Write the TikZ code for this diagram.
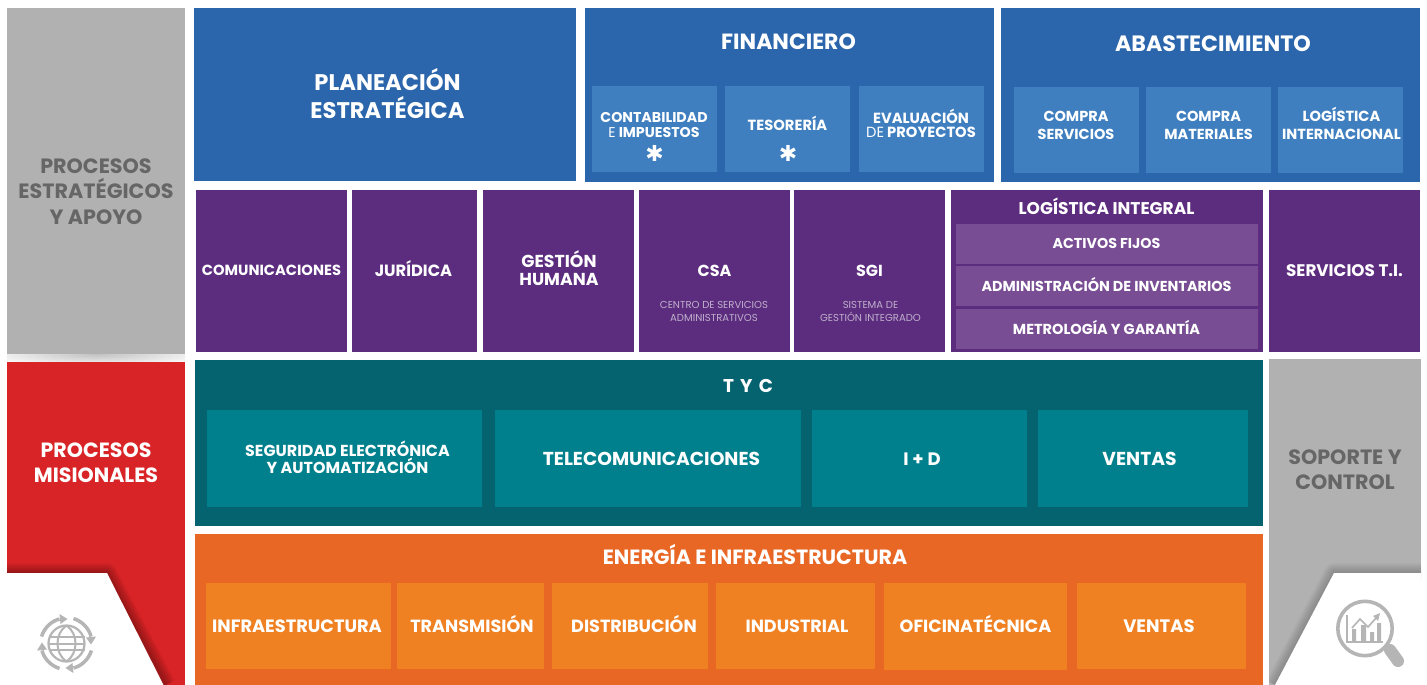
\documentclass[tikz,border=0pt]{standalone}
\usepackage{fontspec}
\setmainfont{Poppins}[BoldFont={Poppins Bold}]
\definecolor{gbox}{HTML}{B1B1B1}
\definecolor{gtxt}{HTML}{666666}
\definecolor{redb}{HTML}{D92427}
\definecolor{blueb}{HTML}{2B65AB}
\definecolor{blues}{HTML}{3F7FC0}
\definecolor{purb}{HTML}{5C2C7E}
\definecolor{purs}{HTML}{784D93}
\definecolor{tealb}{HTML}{05626F}
\definecolor{teals}{HTML}{00808C}
\definecolor{orab}{HTML}{E96724}
\definecolor{oras}{HTML}{F08122}
\definecolor{ico}{HTML}{B5B5B5}
\definecolor{lil}{HTML}{BFB0CC}
\tikzset{x=1pt,y=-1pt,
 txt/.style={align=center,text=white,font=\bfseries,inner sep=0pt},
 boxn/.style={inner sep=0pt,outer sep=0pt,draw=none},
 iconl/.style={draw=ico,line width=3pt,line cap=butt}}
\newcommand{\bx}[6]{%
 \pgfmathsetmacro{\bw}{#4-#2}\pgfmathsetmacro{\bh}{#5-#3}%
 \node[boxn,fill=#6,minimum width=\bw pt,minimum height=\bh pt] (#1) at ({(#2+#4)/2},{(#3+#5)/2}) {};}
\newcommand{\tx}[5]{\node[txt,#5] (#1) at (#2,#3) {\rule{0pt}{.95em}#4\rule[-.25em]{0pt}{.25em}};}
\newcommand{\fs}[1]{\fontsize{#1}{#1}\selectfont}
\newcommand{\lnsp}[2]{\fontsize{#1}{#2}\selectfont}
\begin{document}
\begin{tikzpicture}
\useasboundingbox (0,0) rectangle (1427,685);
\fill[white] (0,0) rectangle (1427,685);
% soft shadow under the grey box
\begin{scope}
 \clip (7,354) rectangle (185,362);
 \shade[inner color=black!24,outer color=white] (96,354) ellipse[x radius=125,y radius=13];
\end{scope}
% left column
\bx{gl}{7}{8}{185}{354}{gbox}
\bx{rl}{7}{362}{185}{685}{redb}
\begin{scope}
 \clip (7,362) rectangle (185,685);
 \foreach \w in {2,4,...,20}{\draw[black,opacity=.03,line width=\w pt,line join=round] (7,573)--(107,573)--(166,685);}
 \fill[white] (7,573)--(107,573)--(166,690)--(7,690)--cycle;
\end{scope}
% right column
\bx{gr}{1269}{359}{1421}{685}{gbox}
\begin{scope}
 \clip (1269,359) rectangle (1421,685);
 \foreach \w in {2,4,...,20}{\draw[black,opacity=.02,line width=\w pt,line join=round] (1421,573)--(1334,573)--(1275,685);}
 \fill[white] (1421,573)--(1334,573)--(1275,685)--(1421,685)--cycle;
\end{scope}
% blue
\bx{plan}{194}{8}{576}{181}{blueb}
\bx{fin}{585}{8}{994}{182}{blueb}
\bx{aba}{1001}{8}{1420}{182}{blueb}
\bx{f1}{592}{86}{717}{172}{blues}
\bx{f2}{725}{86}{850}{172}{blues}
\bx{f3}{859}{86}{984}{172}{blues}
\bx{a1}{1014}{87}{1139}{173}{blues}
\bx{a2}{1146}{87}{1271}{173}{blues}
\bx{a3}{1278}{87}{1403}{173}{blues}
% purple
\bx{p1}{196}{190}{347}{352}{purb}
\bx{p2}{352}{190}{477}{352}{purb}
\bx{p3}{483}{190}{634}{352}{purb}
\bx{p4}{639}{190}{790}{352}{purb}
\bx{p5}{794}{190}{945}{352}{purb}
\bx{p6}{951}{190}{1263}{352}{purb}
\bx{p7}{1269}{190}{1420}{352}{purb}
\bx{l1}{956}{224}{1258}{264}{purs}
\bx{l2}{956}{266}{1258}{306}{purs}
\bx{l3}{956}{309}{1258}{349}{purs}
% teal
\bx{tyc}{195}{360}{1263}{526}{tealb}
\bx{t1}{207}{410}{482}{507}{teals}
\bx{t2}{495}{410}{801}{507}{teals}
\bx{t3}{812}{410}{1027}{507}{teals}
\bx{t4}{1038}{410}{1248}{507}{teals}
% orange
\bx{ene}{195}{534}{1263}{685}{orab}
\bx{o1}{206}{583}{391}{669}{oras}
\bx{o2}{397}{583}{544}{669}{oras}
\bx{o3}{552}{583}{708}{669}{oras}
\bx{o4}{716}{583}{875}{669}{oras}
\bx{o5}{884}{583}{1067}{670}{oras}
\bx{o6}{1077}{583}{1246}{669}{oras}
% texts
\tx{tgl}{96}{191.5}{PROCESOS\\ESTRATÉGICOS\\Y APOYO}{text=gtxt,font=\bfseries\lnsp{20.7}{25.5}}
\tx{trl}{96}{462.5}{PROCESOS\\MISIONALES}{font=\bfseries\lnsp{20.6}{25}}
\tx{tgr}{1345}{469.5}{SOPORTE Y\\CONTROL}{text=gtxt,font=\bfseries\lnsp{20.7}{25}}
\tx{tplan}{387.5}{96.5}{PLANEACIÓN\\ESTRATÉGICA}{font=\bfseries\lnsp{22.6}{28}}
\tx{tfin}{788.5}{41.5}{FINANCIERO}{font=\bfseries\fs{22}}
\tx{taba}{1213}{43.5}{ABASTECIMIENTO}{font=\bfseries\fs{22.2}}
\tx{tf1}{654}{125}{CONTABILIDAD\\{\mdseries E} IMPUESTOS}{font=\bfseries\lnsp{14.2}{14.5}}
\tx{sf1}{654.5}{154}{\fontspec{DejaVu Sans}\bfseries ✱}{font=\fs{22}}
\tx{tf2}{787.5}{125}{TESORERÍA}{font=\bfseries\fs{14.7}}
\tx{sf2}{788}{154}{\fontspec{DejaVu Sans}\bfseries ✱}{font=\fs{22}}
\tx{tf3}{921}{125}{EVALUACIÓN\\{\mdseries DE} PROYECTOS}{font=\bfseries\lnsp{14.7}{14.5}}
\tx{ta1}{1076}{125.2}{COMPRA\\SERVICIOS}{font=\bfseries\lnsp{14.5}{18}}
\tx{ta2}{1208.5}{125.2}{COMPRA\\MATERIALES}{font=\bfseries\lnsp{14.5}{18}}
\tx{ta3}{1341.5}{125.5}{LOGÍSTICA\\INTERNACIONAL}{font=\bfseries\lnsp{14.6}{18}}
\tx{tp1}{271.5}{270}{COMUNICACIONES}{font=\bfseries\fs{14.7}}
\tx{tp2}{413.5}{270.7}{JURÍDICA}{font=\bfseries\fs{16.3}}
\tx{tp3}{559}{270.5}{GESTIÓN\\HUMANA}{font=\bfseries\lnsp{17.3}{18}}
\tx{tp4}{714.5}{271}{CSA}{font=\bfseries\fs{16}}
\tx{sp4}{714}{311}{CENTRO DE SERVICIOS\\ADMINISTRATIVOS}{text=lil,font=\mdseries\lnsp{10.1}{13}}
\tx{tp5}{869.5}{271}{SGI}{font=\bfseries\fs{16}}
\tx{sp5}{870.5}{311}{SISTEMA DE\\GESTIÓN INTEGRADO}{text=lil,font=\mdseries\lnsp{10.1}{13}}
\tx{tp6}{1106.5}{208.3}{LOGÍSTICA INTEGRAL}{font=\bfseries\fs{17}}
\tx{tl1}{1106.5}{243.3}{ACTIVOS FIJOS}{font=\bfseries\fs{14.3}}
\tx{tl2}{1106.5}{286.3}{ADMINISTRACIÓN DE INVENTARIOS}{font=\bfseries\fs{14.4}}
\tx{tl3}{1106.5}{329.3}{METROLOGÍA Y GARANTÍA}{font=\bfseries\fs{14.5}}
\tx{tp7}{1344.5}{270.5}{SERVICIOS T.I.}{font=\bfseries\fs{16.8}}
\tx{ttyc}{748}{386}{\addfontfeature{LetterSpace=12}T Y C}{font=\bfseries\fs{18.5}}
\tx{tt1}{347.5}{459}{SEGURIDAD ELECTRÓNICA\\Y AUTOMATIZACIÓN}{font=\bfseries\lnsp{15.9}{17.5}}
\tx{tt2}{651.5}{459}{TELECOMUNICACIONES}{font=\bfseries\fs{18.7}}
\tx{tt3}{922}{459}{I + D}{font=\bfseries\fs{18}}
\tx{tt4}{1139.5}{459}{VENTAS}{font=\bfseries\fs{18.7}}
\tx{tene}{755}{557.5}{ENERGÍA E INFRAESTRUCTURA}{font=\bfseries\fs{20.6}}
\tx{to1}{297}{626}{INFRAESTRUCTURA}{font=\bfseries\fs{17.8}}
\tx{to2}{472}{626}{TRANSMISIÓN}{font=\bfseries\fs{17.6}}
\tx{to3}{634}{626}{DISTRIBUCIÓN}{font=\bfseries\fs{17.6}}
\tx{to4}{797}{626}{INDUSTRIAL}{font=\bfseries\fs{17.6}}
\tx{to5}{975.5}{626}{OFICINATÉCNICA}{font=\bfseries\fs{17.6}}
\tx{to6}{1159}{626}{VENTAS}{font=\bfseries\fs{18}}
% globe icon
\coordinate (gc) at (66.5,643.5);
\begin{scope}[shift={(gc)}]
 \draw[iconl,line width=2.2pt] (0,0) circle[radius=18];
 \draw[iconl,line width=2pt] (-18,-6.5)--(18,-6.5) (-18,6.5)--(18,6.5) (-18,0)--(18,0);
 \draw[iconl,line width=2pt] (0,-18) .. controls (-12,-10) and (-12,10) .. (0,18);
 \draw[iconl,line width=2pt] (0,-18) .. controls (12,-10) and (12,10) .. (0,18);
 \foreach \a in {0,90,180,270}{
  \begin{scope}[rotate=\a]
   \draw[iconl,line width=3.5pt] (-25,-7) .. controls (-22,-16) and (-15,-22.5) .. (-7,-24.5);
   \fill[ico] (-7,-29.5) -- (1,-24.5) -- (-6,-19.5) -- cycle;
  \end{scope}}
\end{scope}
% magnifier icon
\coordinate (mc) at (1365,628.5);
\draw[ico,line width=12pt,line cap=round] (1390,650)--(1398,661);
\draw[ico,line width=3.6pt,fill=white] (mc) circle[radius=27.2];
\draw[ico,line width=1.6pt] (1347,615)--(1347,642)--(1383,642);
\fill[ico] (1352,629) rectangle (1356,642) (1361,625) rectangle (1366,642) (1370,632) rectangle (1374,642) (1377,623) rectangle (1381,642);
\draw[ico,line width=1.6pt] (1352,628)--(1360,619)--(1368,627)--(1376,618);
\fill[ico] (1380,613)--(1378,621)--(1373,616)--cycle;
\end{tikzpicture}
\end{document}
